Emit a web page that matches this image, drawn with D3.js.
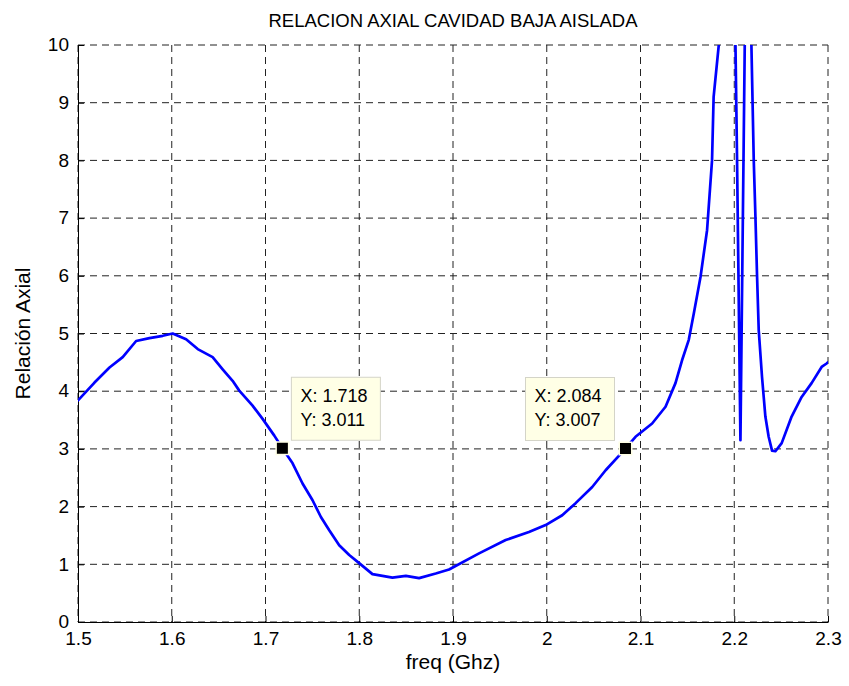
<!DOCTYPE html>
<html>
<head>
<meta charset="utf-8">
<script src="https://cdn.jsdelivr.net/npm/d3@7"></script>
<style>
  html, body { margin: 0; padding: 0; background: #fff; }
  svg { display: block; font-family: "Liberation Sans", Arial, Helvetica, sans-serif; }
</style>
</head>
<body>
<svg id="chart" width="849" height="686"></svg>
<script>
// ---- data ----
const freq = [
  1.500, 1.5176, 1.5336, 1.5477, 1.562, 1.5762, 1.5904, 1.601, 1.6153, 1.6277,
  1.6436, 1.6543, 1.6649, 1.672, 1.6862, 1.6969, 1.7094, 1.718, 1.7289, 1.7395,
  1.7502, 1.7591, 1.768, 1.7786, 1.7893, 1.7999, 1.8141, 1.8354, 1.8497, 1.8638,
  1.8816, 1.8958, 1.9278, 1.9562, 1.981, 1.9988, 2.0165, 2.0308, 2.0485, 2.0628,
  2.0769, 2.084, 2.0947, 2.1124, 2.1267, 2.1373, 2.1444, 2.1515, 2.157, 2.164,
  2.171, 2.1763, 2.178, 2.1835, 2.188, 2.194, 2.198, 2.2013, 2.2030, 2.2066,
  2.2112, 2.214, 2.2183, 2.2208, 2.2226, 2.2243, 2.2261, 2.2296, 2.2332, 2.2367,
  2.2403, 2.2439, 2.2506, 2.2612, 2.2719, 2.2825, 2.2932, 2.2985, 2.300
];
const axialRatio = [
  3.84, 4.15, 4.41, 4.59, 4.87, 4.92, 4.96, 5.00, 4.90, 4.73,
  4.59, 4.38, 4.18, 4.01, 3.75, 3.52, 3.23, 3.011, 2.75, 2.40,
  2.11, 1.82, 1.59, 1.33, 1.16, 1.02, 0.83, 0.77, 0.80, 0.76,
  0.84, 0.91, 1.19, 1.42, 1.56, 1.68, 1.85, 2.06, 2.34, 2.63,
  2.88, 3.007, 3.21, 3.44, 3.73, 4.14, 4.54, 4.89, 5.36, 5.98,
  6.79, 8.0, 9.1, 10.0, 12.5, 15.0, 12.5, 10.0, 8.0, 3.15,
  10.0, 13.0, 10.0, 8.0, 7.02, 6.01, 5.06, 4.25, 3.56, 3.21,
  2.97, 2.96, 3.10, 3.56, 3.90, 4.14, 4.42, 4.48, 4.50
];
const xTicks = [1.5, 1.6, 1.7, 1.8, 1.9, 2.0, 2.1, 2.2, 2.3];
const yTicks = [0, 1, 2, 3, 4, 5, 6, 7, 8, 9, 10];
const tipX = [1.718, 2.084];
const tipY = [3.011, 3.007];
const tipSide = ["right", "left"];
const titleText = "RELACION AXIAL CAVIDAD BAJA AISLADA";
const xLabel = "freq (Ghz)";
const yLabel = "Relación Axial";

// ---- layout ----
const W = 849, H = 686;
const m = { left: 78, right: 21, top: 45, bottom: 64 };
const iw = W - m.left - m.right, ih = H - m.top - m.bottom;

const svg = d3.select("#chart");
const g = svg.append("g").attr("transform", `translate(${m.left},${m.top})`);

const x = d3.scaleLinear().domain([1.5, 2.3]).range([0, iw]);
const y = d3.scaleLinear().domain([0, 10]).range([ih, 0]);

// grid
g.append("g").selectAll("line").data(xTicks).join("line")
  .attr("x1", d => x(d)).attr("x2", d => x(d)).attr("y1", 0).attr("y2", ih)
  .attr("stroke", "#222").attr("stroke-width", 1).attr("stroke-dasharray", "7,5");
g.append("g").selectAll("line").data(yTicks).join("line")
  .attr("x1", 0).attr("x2", iw).attr("y1", d => y(d)).attr("y2", d => y(d))
  .attr("stroke", "#222").attr("stroke-width", 1).attr("stroke-dasharray", "7,5");

// axes
const xAxis = d3.axisBottom(x).tickValues(xTicks).tickFormat(d => String(+d.toFixed(1))).tickSizeInner(-6).tickSizeOuter(0).tickPadding(8);
const yAxis = d3.axisLeft(y).tickValues(yTicks).tickFormat(d => String(d)).tickSizeInner(-6).tickSizeOuter(0).tickPadding(9);

const gx = g.append("g").attr("transform", `translate(0,${ih})`).call(xAxis);
const gy = g.append("g").call(yAxis);
[gx, gy].forEach(a => {
  a.select(".domain").attr("stroke", "#000").attr("stroke-width", 1);
  a.selectAll(".tick line").attr("stroke", "#000");
  a.selectAll(".tick text").attr("fill", "#000").style("font-size", "19px")
    .style("font-family", '"Liberation Sans", Arial, sans-serif');
});
gx.selectAll(".tick text").attr("y", 23).attr("dy", 0);
gy.selectAll(".tick text").attr("dy", "0.3em");

// clip
svg.append("defs").append("clipPath").attr("id", "clip")
  .append("rect").attr("x", 0).attr("y", 0).attr("width", iw).attr("height", ih);

const data = freq.map((f, i) => ({ f, v: axialRatio[i] }));
const line = d3.line().x(d => x(d.f)).y(d => y(d.v));
g.append("path").datum(data).attr("clip-path", "url(#clip)")
  .attr("d", line).attr("fill", "none").attr("stroke", "#0000ff")
  .attr("stroke-width", 2.7).attr("stroke-linejoin", "round").attr("stroke-linecap", "round");

// datatips
tipX.forEach((fx, i) => {
  const px = x(fx), py = y(tipY[i]);
  const bw = 89, bh = 63;
  const bx = tipSide[i] === "right" ? px + 9 : px - 11 - bw;
  const by = py - 8 - bh;
  const tg = g.append("g");
  tg.append("rect").attr("x", bx).attr("y", by).attr("width", bw).attr("height", bh)
    .attr("fill", "#ffffe6").attr("stroke", "#d4d4c8").attr("stroke-width", 1);
  tg.append("text").attr("x", bx + 9).attr("y", by + 25).style("font-size", "18px").attr("fill", "#000")
    .text("X: " + fx.toFixed(3));
  tg.append("text").attr("x", bx + 9).attr("y", by + 49).style("font-size", "18px").attr("fill", "#000")
    .text("Y: " + tipY[i].toFixed(3));
  tg.append("rect").attr("x", px - 7).attr("y", py - 7).attr("width", 14).attr("height", 14)
    .attr("fill", "#ffffe6");
  tg.append("rect").attr("x", px - 5.5).attr("y", py - 5.5).attr("width", 11).attr("height", 11)
    .attr("fill", "#000");
});

// title and labels
svg.append("text").attr("x", m.left + iw / 2).attr("y", 27).attr("text-anchor", "middle")
  .style("font-size", "18.5px").attr("fill", "#000").text(titleText);
svg.append("text").attr("x", m.left + iw / 2).attr("y", 669).attr("text-anchor", "middle")
  .style("font-size", "21px").attr("fill", "#000").text(xLabel);
svg.append("text").attr("transform", `translate(30,${m.top + ih / 2}) rotate(-90)`).attr("text-anchor", "middle")
  .style("font-size", "21px").attr("fill", "#000").text(yLabel);
</script>
</body>
</html>
